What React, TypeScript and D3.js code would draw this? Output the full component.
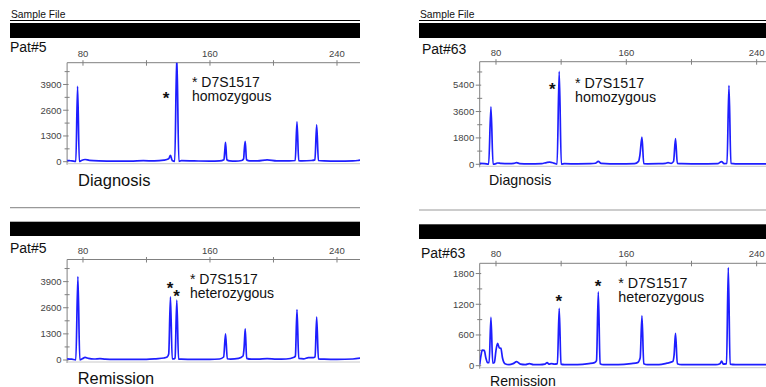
import React from 'react';
import * as d3 from 'd3';

// trace points: [size in bp, intensity]
const pat5Diagnosis: [number, number][] = [
  [70, 60], [71.5, 50], [73, 40], [75.5, 10], [76.6, 3810], [77.7, 10], [79, 60], [81.3, 110], [84, 70],
  [90, 40], [100, 30], [110, 30], [118, 50], [125, 40], [131, 80], [134, 150], [135.1, 320], [136.2, 60],
  [137.8, 20], [139.1, 5400], [140.4, 20], [142, 50], [150, 40], [160, 30], [166, 40], [168.8, 100],
  [169.3, 520], [169.8, 980], [170.6, 100], [172.5, 40], [176, 30], [180, 60], [181.2, 150], [181.6, 600],
  [182.2, 1030], [183, 100], [185, 40], [190, 40], [196, 90], [202, 40], [210, 40], [213.7, 60],
  [214.8, 2010], [215.9, 50], [218, 40], [224, 60], [226.1, 90], [227.2, 1860], [228.3, 60], [232, 40],
  [240, 30], [250, 40], [253, 60], [255, 90],
];

const pat63Diagnosis: [number, number][] = [
  [70, 60], [73, 50], [75.5, 10], [76.9, 3925], [78.2, 10], [80, 50], [81, 90], [83, 60], [88, 40],
  [91, 60], [92.7, 110], [94.5, 50], [100, 30], [108, 50], [111, 120], [113, 150], [115.5, 80],
  [117.5, 10], [118.8, 6340], [120.1, 10], [122, 40], [130, 30], [138, 40], [141, 70], [142.8, 200],
  [144.5, 60], [150, 30], [160, 30], [165, 40], [167.5, 200], [168.3, 600], [169.6, 1850], [170.7, 40],
  [173, 30], [180, 40], [184, 60], [185.6, 110], [187.5, 60], [189, 200], [190.2, 1760], [191.3, 60],
  [194, 40], [200, 30], [210, 30], [216, 40], [218.5, 180], [220, 50], [221.8, 60], [223, 5370],
  [224.2, 60], [227, 30], [240, 30], [252, 30],
];

const pat5Remission: [number, number][] = [
  [70, 60], [73, 40], [75.5, 10], [76.8, 4150], [78, 10], [79.5, 60], [81.3, 130], [83.5, 80], [87, 50],
  [90.7, 70], [94, 40], [100, 30], [110, 30], [120, 30], [126, 60], [131, 100], [133, 150], [134, 300],
  [135.1, 3140], [136.2, 60], [137.3, 60], [138, 100], [139.1, 2980], [140.2, 40], [142, 40], [150, 30],
  [160, 30], [166, 50], [168.6, 150], [169.8, 1300], [170.9, 60], [173, 40], [178, 80], [180.8, 200],
  [181.5, 630], [182.2, 1555], [183.1, 80], [186, 40], [190, 40], [196, 70], [202, 40], [208, 50],
  [213, 140], [213.8, 200], [214.8, 2510], [215.9, 80], [219, 60], [222, 120], [225, 120], [226.2, 160],
  [227.2, 2140], [228.3, 60], [232, 40], [240, 30], [250, 50], [255, 100],
];

const pat63Remission: [number, number][] = [
  [70, 20], [70.8, 200], [71.6, 305], [72.8, 300], [73.8, 150], [74.8, 60], [75.8, 60], [76.9, 943],
  [78, 50], [79, 60], [80, 300], [81, 436], [82, 350], [83, 340], [84, 150], [85.5, 40], [88, 20],
  [90.5, 40], [92.7, 80], [95, 30], [98, 20], [100.5, 40], [103, 20], [107, 20], [110, 30], [111.4, 60],
  [112.5, 30], [114, 40], [116, 30], [117.7, 40], [118.8, 1118], [119.9, 30], [122, 20], [130, 20],
  [137, 40], [140.5, 60], [141.7, 100], [142.8, 1440], [143.9, 40], [146, 20], [155, 20], [163, 40],
  [167, 60], [168.5, 150], [169.6, 975], [170.7, 40], [173, 20], [180, 20], [185, 50], [188.5, 80],
  [189.3, 200], [190.2, 630], [191.3, 40], [194, 20], [205, 20], [215, 20], [217.5, 40], [218.5, 90],
  [219.5, 30], [221.5, 40], [222.6, 1916], [223.7, 30], [227, 20], [240, 20], [252, 20],
];

const xTicks = [80, 120, 160, 200, 240];
const xLabels = [80, 160, 240];
const pat5YTicks = [0, 1300, 2600, 3900];
const pat5YMinor = [650, 1950, 3250, 4550];
const pat63DiagYTicks = [0, 1800, 3600, 5400];
const pat63DiagYMinor = [900, 2700, 4500, 6300];
const pat63RemYTicks = [0, 600, 1200, 1800];
const pat63RemYMinor = [300, 900, 1500];

const FONT = "Arial, 'Liberation Sans', sans-serif";
const BLUE = '#1e1eff';
const GRAY = '#808080';

type PanelProps = {
  id: string;
  trace: [number, number][];
  xDomain: [number, number];
  xRange: [number, number];
  right: number;
  top: number;
  zero: number;
  yMax: number;
  yTicks: number[];
  yMinor: number[];
  patient: string;
  patientX: number;
  patientY: number;
  headerLeft: number;
  headerRight: number;
  barTop: number;
  barBottom: number;
  sampleFile: boolean;
  lineY: number;
  stars: [number, number][];
  note: string[];
  noteX: number;
  noteY: number;
  noteSize: number;
  stage: string;
  stageX: number;
  stageY: number;
  stageSize: number;
};

const Panel = (p: PanelProps) => {
  const x = d3.scaleLinear().domain(p.xDomain).range(p.xRange);
  const y = d3.scaleLinear().domain([0, p.yMax]).range([p.zero, p.top]);
  const line = d3
    .line<[number, number]>()
    .x((d) => x(d[0]))
    .y((d) => y(d[1]))
    .curve(d3.curveMonotoneX);
  const left = p.xRange[0];

  return (
    <g fontFamily={FONT}>
      {p.sampleFile ? (
        <>
          <text x={p.headerLeft + 1} y={18.3} fontSize={10.3} fill="#111">
            Sample File
          </text>
          <line x1={p.headerLeft} x2={p.headerRight} y1={p.lineY} y2={p.lineY} stroke="#000" strokeWidth={1} />
        </>
      ) : (
        <line x1={p.headerLeft} x2={p.headerRight} y1={p.lineY} y2={p.lineY} stroke="#999" strokeWidth={1.2} />
      )}
      <rect x={p.headerLeft} y={p.barTop} width={p.headerRight - p.headerLeft} height={p.barBottom - p.barTop} fill="#000" />
      <text x={p.patientX} y={p.patientY} fontSize={14} fill="#111">
        {p.patient}
      </text>

      <defs>
        <clipPath id={p.id}>
          <rect x={left} y={p.top} width={p.right - left} height={p.zero - p.top + 6} />
        </clipPath>
      </defs>

      {/* frame */}
      <line x1={left} x2={p.right} y1={p.top} y2={p.top} stroke={GRAY} />
      <line x1={left} x2={left} y1={p.top} y2={p.zero + 3} stroke={GRAY} />
      <line x1={left} x2={p.right} y1={p.zero + 2} y2={p.zero + 2} stroke="#c8c8c8" />
      {xTicks.map((t) => (
        <line key={t} x1={x(t)} x2={x(t)} y1={p.top - 2.5} y2={p.top + 3} stroke={GRAY} />
      ))}
      {xLabels.map((t) => (
        <text key={t} x={x(t)} y={p.top - 6} fontSize={9.5} textAnchor="middle" fill="#444">
          {t}
        </text>
      ))}
      {p.yTicks.map((t) => (
        <g key={t}>
          <line x1={left - 4} x2={left + 1.5} y1={y(t)} y2={y(t)} stroke={GRAY} />
          <text x={left - 5.5} y={y(t) + 3.3} fontSize={9.5} textAnchor="end" fill="#444">
            {t}
          </text>
        </g>
      ))}
      {p.yMinor.map((t) => (
        <line key={t} x1={left - 2.5} x2={left + 2.5} y1={y(t)} y2={y(t)} stroke={GRAY} />
      ))}

      <path d={line(p.trace) ?? ''} fill="none" stroke={BLUE} strokeWidth={1.7} strokeLinejoin="round" clipPath={`url(#${p.id})`} />

      {p.stars.map(([s, v], i) => (
        <text key={i} x={x(s)} y={y(v) + 9.5} fontSize={17} fontWeight="bold" textAnchor="middle" fill="#111">
          *
        </text>
      ))}
      {p.note.map((n, i) => (
        <text key={n} x={p.noteX} y={p.noteY + i * 13.5} fontSize={p.noteSize} fill="#111">
          {n}
        </text>
      ))}
      <text x={p.stageX} y={p.stageY} fontSize={p.stageSize} fill="#111">
        {p.stage}
      </text>
    </g>
  );
};

export default function App() {
  return (
    <div style={{ position: 'absolute', left: 0, top: 0 }}>
      <svg width={766} height={387} style={{ display: 'block', background: '#fff' }}>
        <Panel
          id="c1"
          trace={pat5Diagnosis}
          xDomain={[70, 255]}
          xRange={[67.1, 360.8]}
          right={360}
          top={62.7}
          zero={161.7}
          yMax={5000}
          yTicks={pat5YTicks}
          yMinor={pat5YMinor}
          patient="Pat#5"
          patientX={10}
          patientY={51.7}
          headerLeft={10}
          headerRight={360}
          barTop={23}
          barBottom={38}
          sampleFile
          lineY={20.5}
          stars={[[132.3, 3400]]}
          note={['* D7S1517', 'homozygous']}
          noteX={192}
          noteY={87}
          noteSize={14}
          stage="Diagnosis"
          stageX={78}
          stageY={185.5}
          stageSize={16.5}
        />
        <Panel
          id="c2"
          trace={pat63Diagnosis}
          xDomain={[70, 252]}
          xRange={[479.7, 776.2]}
          right={766}
          top={61.7}
          zero={164.3}
          yMax={7000}
          yTicks={pat63DiagYTicks}
          yMinor={pat63DiagYMinor}
          patient="Pat#63"
          patientX={422}
          patientY={53.5}
          headerLeft={419}
          headerRight={766}
          barTop={23}
          barBottom={38}
          sampleFile
          lineY={20.5}
          stars={[[114.5, 5400]]}
          note={['* D7S1517', 'homozygous']}
          noteX={575}
          noteY={88}
          noteSize={14.3}
          stage="Diagnosis"
          stageX={489}
          stageY={185.3}
          stageSize={14.2}
        />
        <Panel
          id="c3"
          trace={pat5Remission}
          xDomain={[70, 255]}
          xRange={[67.1, 360.8]}
          right={360}
          top={259.5}
          zero={360}
          yMax={5000}
          yTicks={pat5YTicks}
          yMinor={pat5YMinor}
          patient="Pat#5"
          patientX={10}
          patientY={253.3}
          headerLeft={10}
          headerRight={360}
          barTop={221.7}
          barBottom={236}
          sampleFile={false}
          lineY={207.7}
          stars={[[134.8, 3750], [139, 3370]]}
          note={['* D7S1517', 'heterozygous']}
          noteX={190}
          noteY={284.3}
          noteSize={14}
          stage="Remission"
          stageX={77.7}
          stageY={384}
          stageSize={16.4}
        />
        <Panel
          id="c4"
          trace={pat63Remission}
          xDomain={[70, 252]}
          xRange={[479.7, 776.2]}
          right={766}
          top={263.3}
          zero={365.7}
          yMax={2000}
          yTicks={pat63RemYTicks}
          yMinor={pat63RemYMinor}
          patient="Pat#63"
          patientX={421}
          patientY={257.7}
          headerLeft={419}
          headerRight={766}
          barTop={224.3}
          barBottom={239}
          sampleFile={false}
          lineY={210}
          stars={[[118.6, 1340], [142.6, 1630]]}
          note={['* D7S1517', 'heterozygous']}
          noteX={618.3}
          noteY={288.3}
          noteSize={14.3}
          stage="Remission"
          stageX={490}
          stageY={386}
          stageSize={14.1}
        />
      </svg>
    </div>
  );
}
